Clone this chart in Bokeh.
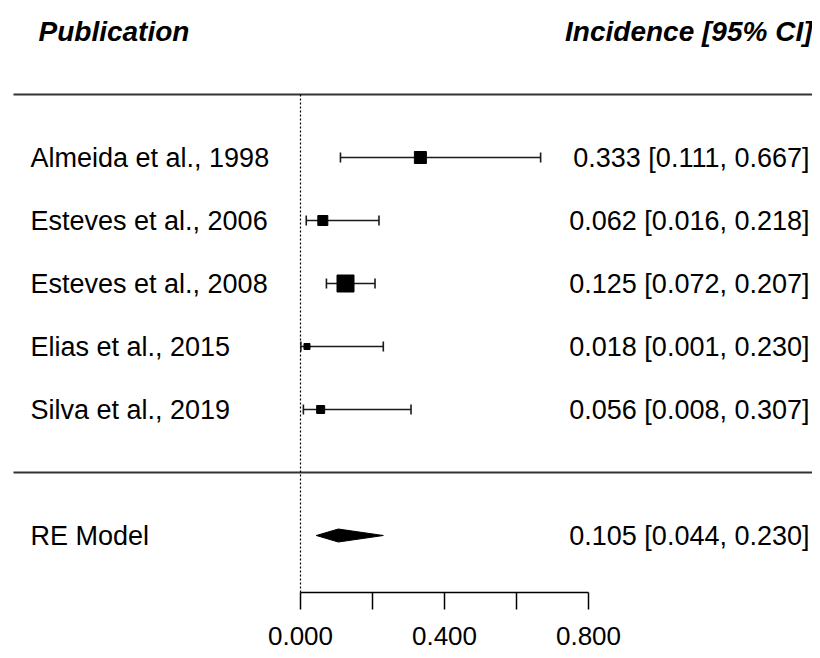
from bokeh.plotting import figure
from bokeh.models import Range1d
from bokeh.core.properties import value
from bokeh.embed import file_html
from bokeh.resources import INLINE

studies = ["Almeida et al., 1998", "Esteves et al., 2006", "Esteves et al., 2008",
           "Elias et al., 2015", "Silva et al., 2019"]
est = [0.333, 0.062, 0.125, 0.018, 0.056]
lower = [0.111, 0.016, 0.072, 0.001, 0.008]
upper = [0.667, 0.218, 0.207, 0.230, 0.307]
weights = [12, 10, 17, 6, 8]
re_est, re_lo, re_hi = 0.105, 0.044, 0.230
ticks = [0.0, 0.2, 0.4, 0.6, 0.8]
tick_labels = {0.0: "0.000", 0.4: "0.400", 0.8: "0.800"}

FONT = value("Liberation Sans")
W, H = 812, 650
PX = 360.0   # pixels per unit
RY = 63.0    # pixels per row
x0v = -300 / PX
y_top = 472 / RY
p = figure(width=W, height=H, output_backend="svg", toolbar_location=None,
           x_range=Range1d(x0v, x0v + W / PX), y_range=Range1d(y_top - H / RY, y_top),
           min_border=0, outline_line_color=None)
p.axis.visible = False
p.grid.visible = False

def px(x):
    return x0v + x / PX

n = len(studies)
rows = [n - i for i in range(n)]
re_row = -1
axis_row = -1.905
cap = 5 / RY

# separators and reference line
p.segment(x0=[px(13), px(13)], y0=[6, 0], x1=[px(W), px(W)], y1=[6, 0],
          line_color="#333333", line_width=2)
p.segment(x0=[0], y0=[6], x1=[0], y1=[axis_row], line_color="black",
          line_width=1.2, line_dash="2 2")

# CIs
p.segment(x0=lower, y0=rows, x1=upper, y1=rows, line_color="#1a1a1a", line_width=1.6)
p.segment(x0=lower, y0=[r - cap for r in rows], x1=lower, y1=[r + cap for r in rows],
          line_color="#1a1a1a", line_width=1.6)
p.segment(x0=upper, y0=[r - cap for r in rows], x1=upper, y1=[r + cap for r in rows],
          line_color="#1a1a1a", line_width=1.6)
p.scatter(x=est, y=rows, size=weights, marker="square", color="black")

# RE diamond
dh = 6.5 / RY
p.patch(x=[re_lo, re_est, re_hi, re_est], y=[re_row, re_row + dh, re_row, re_row - dh],
        color="black")

# x axis
p.segment(x0=[ticks[0]], y0=[axis_row], x1=[ticks[-1]], y1=[axis_row],
          line_color="black", line_width=1.5)
p.segment(x0=ticks, y0=[axis_row] * len(ticks), x1=ticks,
          y1=[axis_row - 17 / RY] * len(ticks), line_color="black", line_width=1.5)
tl = list(tick_labels.keys())
p.text(x=tl, y=[(472 - 635) / RY] * len(tl), text=[tick_labels[t] for t in tl],
       text_align="center", text_baseline="middle", text_font=FONT,
       text_font_size="26px", text_color="black")

# labels
lab_x = px(30)
right_x = px(809)
p.text(x=[lab_x] * n, y=rows, text=studies, text_align="left", text_baseline="middle",
       text_font=FONT, text_font_size="27px", text_color="black")
p.text(x=[lab_x], y=[re_row], text=["RE Model"], text_align="left", text_baseline="middle",
       text_font=FONT, text_font_size="27px", text_color="black")
right_txt = [f"{e:.3f} [{l:.3f}, {u:.3f}]" for e, l, u in zip(est, lower, upper)]
p.text(x=[right_x] * n, y=rows, text=right_txt, text_align="right", text_baseline="middle",
       text_font=FONT, text_font_size="27px", text_color="black")
p.text(x=[right_x], y=[re_row], text=[f"{re_est:.3f} [{re_lo:.3f}, {re_hi:.3f}]"],
       text_align="right", text_baseline="middle",
       text_font=FONT, text_font_size="27px", text_color="black")

# headers
p.text(x=[px(38)], y=[7.0], text=["Publication"], text_align="left",
       text_baseline="middle", text_font=FONT, text_font_size="28px",
       text_font_style="bold italic", text_color="black")
p.text(x=[px(812)], y=[7.0], text=["Incidence [95% CI]"], text_align="right",
       text_baseline="middle", text_font=FONT, text_font_size="28px",
       text_font_style="bold italic", text_color="black")

open("out.html", "w").write(file_html(p, INLINE))
